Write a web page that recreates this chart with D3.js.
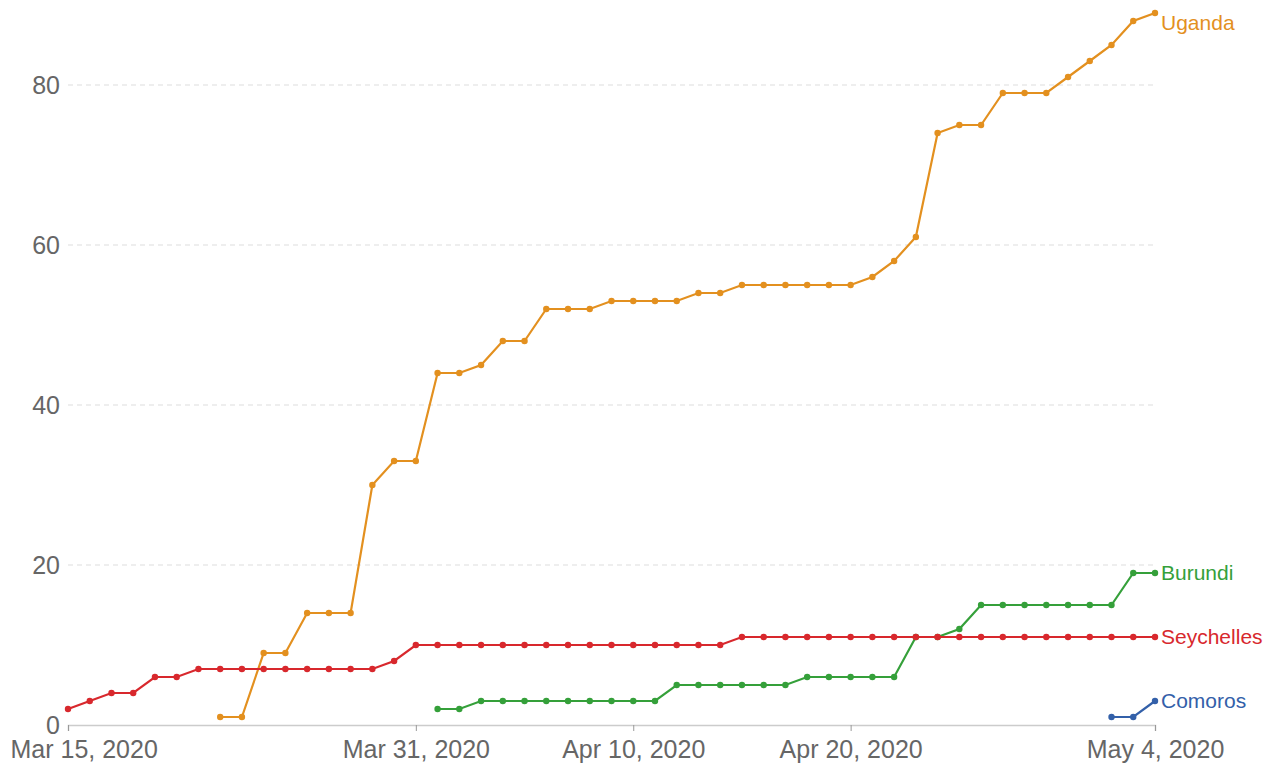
<!DOCTYPE html>
<html>
<head>
<meta charset="utf-8">
<script src="https://cdn.jsdelivr.net/npm/d3@7"></script>
<style>
  body { margin: 0; background: #fff; }
  svg { display: block; font-family: "Liberation Sans", Arial, sans-serif; }
</style>
</head>
<body>
<div class="svg-container"></div>
<script>
// daily counts, each series starts at its own first date
const countries = ['Uganda', 'Burundi', 'Seychelles', 'Comoros'];
const startDates = ['2020-03-22', '2020-04-01', '2020-03-15', '2020-05-02'];
const colours = ['#e3901f', '#35a03a', '#d8282d', '#3360a9'];

const ugandaValues = [1, 1, 9, 9, 14, 14, 14, 30, 33, 33, 44, 44, 45, 48, 48, 52, 52, 52,
  53, 53, 53, 53, 54, 54, 55, 55, 55, 55, 55, 55, 56, 58, 61, 74, 75, 75, 79, 79, 79,
  81, 83, 85, 88, 89];
const burundiValues = [2, 2, 3, 3, 3, 3, 3, 3, 3, 3, 3, 5, 5, 5, 5, 5, 5, 6, 6, 6, 6, 6,
  11, 11, 12, 15, 15, 15, 15, 15, 15, 15, 19, 19];
const seychellesValues = [2, 3, 4, 4, 6, 6, 7, 7, 7, 7, 7, 7, 7, 7, 7, 8,
  10, 10, 10, 10, 10, 10, 10, 10, 10, 10, 10, 10, 10, 10, 10,
  11, 11, 11, 11, 11, 11, 11, 11, 11, 11, 11, 11, 11, 11, 11, 11, 11, 11, 11, 11];
const comorosValues = [1, 1, 3];

const tickDates = ['2020-03-15', '2020-03-31', '2020-04-10', '2020-04-20', '2020-05-04'];
const yTicks = [0, 20, 40, 60, 80];

// set up dimensions
const width = 1271;
const height = 766;
const margin = { top: 13, right: 116, bottom: 41, left: 68 };

const parse = d3.timeParse('%Y-%m-%d');
const allValues = [ugandaValues, burundiValues, seychellesValues, comorosValues];

const series = countries.map((name, i) => {
  const start = parse(startDates[i]);
  return {
    name: name,
    colour: colours[i],
    points: allValues[i].map((v, j) => ({ date: d3.timeDay.offset(start, j), value: v }))
  };
});

const x = d3.scaleTime()
  .domain([parse('2020-03-15'), parse('2020-05-04')])
  .range([margin.left, width - margin.right]);

const y = d3.scaleLinear()
  .domain([0, 89])
  .range([height - margin.bottom, margin.top]);

const svg = d3.select('.svg-container')
  .append('svg')
  .attr('width', width)
  .attr('height', height);

// gridlines
svg.append('g')
  .selectAll('line')
  .data(yTicks.filter(d => d > 0))
  .enter()
  .append('line')
  .attr('x1', margin.left)
  .attr('x2', width - margin.right)
  .attr('y1', d => y(d))
  .attr('y2', d => y(d))
  .attr('stroke', '#dddddd')
  .attr('stroke-width', 1)
  .attr('stroke-dasharray', '5,4');

// y labels
svg.append('g')
  .selectAll('text')
  .data(yTicks)
  .enter()
  .append('text')
  .attr('x', margin.left - 8)
  .attr('y', d => y(d))
  .attr('dy', '0.35em')
  .attr('text-anchor', 'end')
  .attr('fill', '#666')
  .style('font-size', '25px')
  .text(d => d);

// x axis
const xAxis = d3.axisBottom(x)
  .tickValues(tickDates.map(parse))
  .tickFormat(d3.timeFormat('%b %-d, %Y'))
  .tickSize(6)
  .tickPadding(9);

const xg = svg.append('g')
  .attr('transform', `translate(0,${y(0)})`)
  .call(xAxis);

xg.select('.domain').attr('stroke', '#cccccc').attr('stroke-width', 1.5);
xg.selectAll('.tick line').attr('stroke', '#999');
xg.selectAll('.tick text')
  .attr('fill', '#666')
  .style('font-size', '25px')
  .style('font-family', '"Liberation Sans", Arial, sans-serif');

// keep the first label inside the page
xg.selectAll('.tick text').each(function () {
  const box = this.getBBox();
  const left = x(parse(tickDates[0])) + box.x;
  if (this.parentNode.__data__.getTime() === parse(tickDates[0]).getTime() && left < 10) {
    d3.select(this).attr('x', 10 - left);
  }
});

// lines
const line = d3.line()
  .x(d => x(d.date))
  .y(d => y(d.value));

const groups = svg.append('g')
  .selectAll('g')
  .data(series)
  .enter()
  .append('g');

groups.append('path')
  .attr('d', d => line(d.points))
  .attr('fill', 'none')
  .attr('stroke', d => d.colour)
  .attr('stroke-width', 2.2);

groups.selectAll('circle')
  .data(d => d.points.map(p => Object.assign({ colour: d.colour }, p)))
  .enter()
  .append('circle')
  .attr('cx', d => x(d.date))
  .attr('cy', d => y(d.value))
  .attr('r', 3.2)
  .attr('fill', d => d.colour);

// end labels
groups.append('text')
  .attr('x', d => x(d.points[d.points.length - 1].date) + 6)
  .attr('y', d => Math.max(y(d.points[d.points.length - 1].value), 23))
  .attr('dy', '0.35em')
  .attr('fill', d => d.colour)
  .style('font-size', '21px')
  .text(d => d.name);
</script>
</body>
</html>
